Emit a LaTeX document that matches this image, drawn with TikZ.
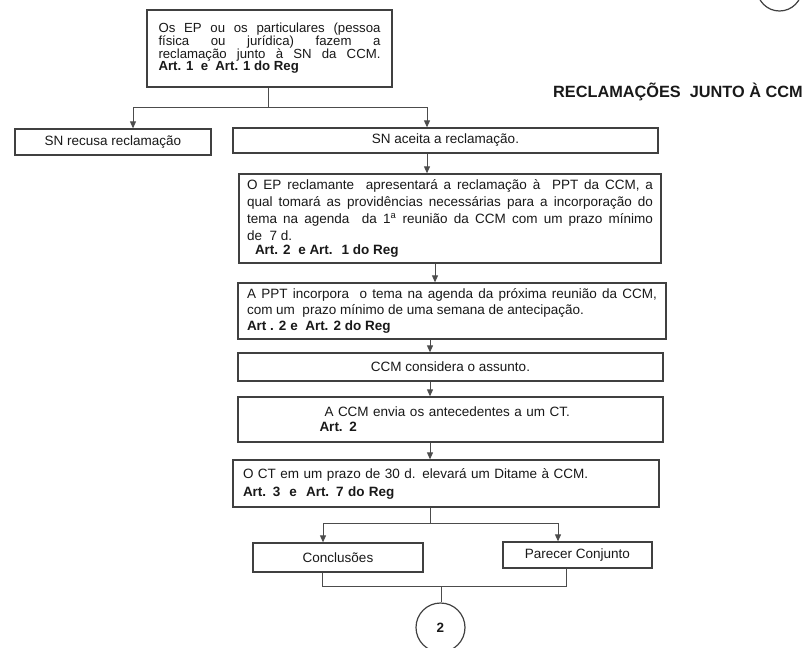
\documentclass[tikz,border=0pt]{standalone}
\usepackage{fontspec}
\setmainfont{Liberation Sans}
\usetikzlibrary{arrows.meta}
\begin{document}
\begin{tikzpicture}[x=1pt,y=-1pt,
  box/.style={draw=black!75, line width=1.3pt, fill=white, rectangle, inner sep=0pt},
  link/.style={draw=black!70, line width=0.9pt},
  arr/.style={link, -{Triangle[length=7pt,width=6pt]}},
  body/.style={font=\fontsize{13.5}{17}\selectfont, text=black!90}
]
\useasboundingbox (0,0) rectangle (807,648);

% title and the continuation circle at the top corner
\node[anchor=east, inner sep=0pt, text=black!90,
      font=\fontsize{16.3}{19}\selectfont\bfseries] (title) at (803,91.5)
  {RECLAMAÇÕES\ \ JUNTO À CCM};
\node[circle, draw=black!75, line width=1.2pt, minimum size=45pt, inner sep=0pt] (prev) at (779.5,-11.5) {};

% boxes of the flow
\node[box, body, minimum width=245pt, minimum height=77pt, text width=222pt, align=justify,
      font=\fontsize{13.2}{12.7}\selectfont] (claim) at (269.5,48.5)
  {Os EP ou os particulares (pessoa\linebreak física ou jurídica) fazem a\linebreak
   reclamação junto à SN da CCM.\linebreak \textbf{Art. 1 \ e \ Art. 1 do Reg}};

\node[box, body, minimum width=196pt, minimum height=26pt] (recusa) at (113,142) {SN recusa reclamação};
\node[box, body, minimum width=425pt, minimum height=25pt] (aceita) at (445.5,140.5) {SN aceita a reclamação.};

\node[box, body, minimum width=422pt, minimum height=89pt, text width=406pt, align=justify] (present) at (450,218.5)
  {O EP reclamante \ apresentará a reclamação à \ PPT da CCM, a\linebreak
   qual tomará as providências necessárias para a incorporação do\linebreak
   tema na agenda \ da 1\textsuperscript{a} reunião da CCM com um prazo mínimo\linebreak
   de \ 7 d.\\[-3pt]
   \hspace*{8pt}\textbf{Art. 2 \ e Art. \ 1 do Reg}};

\node[box, body, minimum width=428pt, minimum height=56pt, text width=410pt, align=justify,
      font=\fontsize{13.5}{16}\selectfont] (agenda) at (452,311)
  {A PPT incorpora \ o tema na agenda da próxima reunião da CCM,\linebreak
   com um \ prazo mínimo de uma semana de antecipação.\\
   \textbf{Art . 2 e \ Art. 2 do Reg}};

\node[box, body, minimum width=425pt, minimum height=28pt] (consider) at (450.5,367) {CCM considera o assunto.};

\node[box, body, minimum width=425pt, minimum height=45pt, text width=262pt, align=left,
      font=\fontsize{13.5}{15}\selectfont] (send) at (450.5,419.5)
  {\hspace*{5pt}A CCM envia os antecedentes a um CT.\\ \textbf{Art. 2}};

\node[box, body, minimum width=426pt, minimum height=47pt, text width=406pt, align=left,
      font=\fontsize{13.5}{18}\selectfont] (ruling) at (446,483.5)
  {O CT em um prazo de 30 d. elevará um Ditame à CCM.\\ \textbf{Art. 3 \ e \ Art. 7 do Reg}};

\node[box, body, minimum width=170pt, minimum height=29pt] (concl) at (338,557.5) {Conclusões};
\node[box, body, minimum width=149pt, minimum height=26pt] (parecer) at (577.5,555) {Parecer Conjunto};

\node[circle, draw=black!75, line width=1.2pt, minimum size=49pt, inner sep=0pt, body] (next) at (440.5,627.5) {\textbf{2}};

% branch points and vertical runs of the connectors
\coordinate (split1) at (268,107);
\coordinate (toL) at (133,107);
\coordinate (toR) at (427,107);
\coordinate (runA) at (435,0);
\coordinate (runB) at (430,0);
\coordinate (split2) at (430,523);
\coordinate (toC) at (323,523);
\coordinate (toP) at (558,523);
\coordinate (joinC) at (322,586);
\coordinate (joinP) at (566,586);
\coordinate (join) at (441,586);

% first split: refused / accepted
\draw[link] (claim.south -| split1) -- (split1);
\draw[link] (toL) -- (toR);
\draw[arr] (toL) -- (toL |- recusa.north);
\draw[arr] (toR) -- (toR |- aceita.north);

% main sequence
\draw[arr] (aceita.south -| toR) -- (present.north -| toR);
\draw[arr] (present.south -| runA) -- (agenda.north -| runA);
\draw[arr] (agenda.south -| runB) -- (consider.north -| runB);
\draw[arr] (consider.south -| runB) -- (send.north -| runB);
\draw[arr] (send.south -| runB) -- (ruling.north -| runB);

% second split and merge into the continuation circle
\draw[link] (ruling.south -| split2) -- (split2);
\draw[link] (toC) -- (toP);
\draw[arr] (toC) -- (toC |- concl.north);
\draw[arr] (toP) -- (toP |- parecer.north);
\draw[link] (concl.south -| joinC) -- (joinC) -- (joinP) -- (parecer.south -| joinP);
\draw[link] (join) -- (join |- next.north);
\end{tikzpicture}
\end{document}
